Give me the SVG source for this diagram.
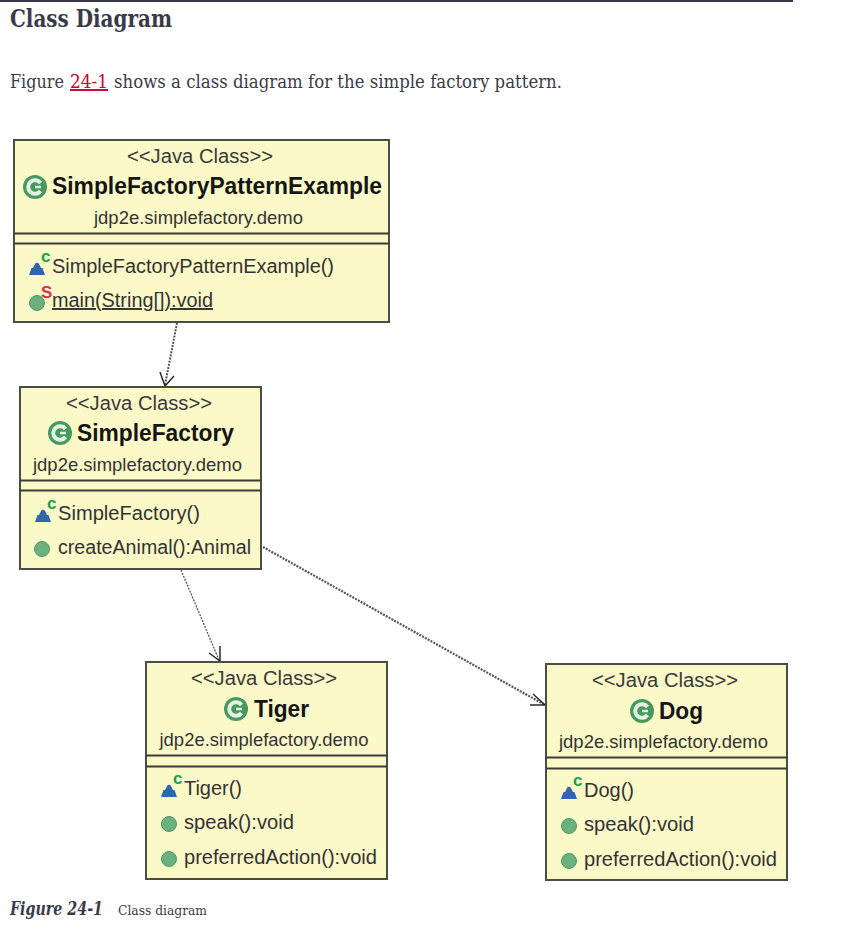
<svg xmlns="http://www.w3.org/2000/svg" xmlns:xlink="http://www.w3.org/1999/xlink" width="851" height="945" viewBox="0 0 851 945">
<style>
text{font-family:"Liberation Sans",Arial,sans-serif;fill:#333}
.box{fill:#fbf9c8;stroke:#4a4d42;stroke-width:2}
.sep{stroke:#3a3d35;stroke-width:2;fill:none}
.st{font-size:19.500px;text-anchor:middle;fill:#3a3a3a}
.nm{font-size:23px;font-weight:bold;fill:#151515}
.pk{font-size:18.500px;text-anchor:middle}
.m{font-size:19.500px}
.ser{font-family:"DejaVu Serif","Liberation Serif",serif;fill:#3a3a48}
.body{font-size:19px}
.dep{stroke:#555;fill:none;stroke-dasharray:2 1.2}
.head{stroke:#2a2a2a;stroke-width:1.500;fill:none}
</style>
<defs>
<g id="cls"><circle r="12" fill="#479a5e"/><path d="M5.500-4A6.800 6.800 0 1 0 5.500 4" fill="none" stroke="#e2f1e2" stroke-width="4"/><path d="M0 0H6" stroke="#e2f1e2" stroke-width="2.500"/></g>
<g id="ctor"><path d="M-8 8H8L5.500 1H4L2-3A2.200 2.200 0 0 0-2-3L-4 1H-5.500Z" fill="#2f66ad"/><text x="4" y="-5" style="font-size:17px;font-weight:bold;fill:#18a04a">c</text></g>
<g id="pub"><circle r="7.500" fill="#6cb07e" stroke="#4c9a66" stroke-width="1"/></g>
</defs>
<rect x="0" y="0" width="793" height="2" fill="#3a3a48"/>
<text class="ser" x="10" y="27" style="font-size:24px;font-weight:bold" textLength="162" lengthAdjust="spacingAndGlyphs">Class Diagram</text>
<text class="ser body" transform="translate(10 88) scale(.92 1)" textLength="58.700" lengthAdjust="spacingAndGlyphs">Figure</text>
<text class="ser body" transform="translate(70 88) scale(.92 1)" textLength="41.300" lengthAdjust="spacingAndGlyphs" style="fill:#c8002d;text-decoration:underline">24-1</text>
<text class="ser body" transform="translate(114 88) scale(.92 1)" textLength="487" lengthAdjust="spacingAndGlyphs">shows a class diagram for the simple factory pattern.</text>
<text class="ser" transform="translate(10 915) scale(.85 1)" style="font-size:18px;font-weight:bold;font-style:italic" textLength="109.400" lengthAdjust="spacingAndGlyphs">Figure 24-1</text>
<text class="ser" transform="translate(118 915) scale(.9 1)" style="font-size:13px" textLength="98.900" lengthAdjust="spacingAndGlyphs">Class diagram</text>
<g id="connectors">
<path class="dep" stroke-width="2" d="M177 323L165 385"/><path class="head" d="M160 372L165 386L174 376"/>
<path class="dep" stroke-width="1.300" d="M181 570L219 660"/><path class="head" d="M209 653L220 661L220 646"/>
<path class="dep" stroke-width="2.200" d="M263 547L545 705"/><path class="head" d="M533 694L545 705H530"/>
</g>
<g id="node-main">
<rect class="box" x="14" y="140" width="375" height="182"/>
<path class="sep" d="M14 233.500H389M14 243.500H389"/>
<text class="st" x="200" y="163" textLength="146" lengthAdjust="spacingAndGlyphs">&lt;&lt;Java Class&gt;&gt;</text>
<use xlink:href="#cls" x="35" y="187"/>
<text class="nm" x="52" y="194" textLength="330" lengthAdjust="spacingAndGlyphs">SimpleFactoryPatternExample</text>
<text class="pk" x="198.500" y="224" textLength="209" lengthAdjust="spacingAndGlyphs">jdp2e.simplefactory.demo</text>
<use xlink:href="#ctor" x="37" y="267"/>
<text class="m" x="52" y="273" textLength="282" lengthAdjust="spacingAndGlyphs">SimpleFactoryPatternExample()</text>
<use xlink:href="#pub" x="37" y="303"/>
<text x="41" y="298" style="font-size:17px;font-weight:bold;fill:#d8304f">S</text>
<text class="m" x="52" y="307" textLength="161" lengthAdjust="spacingAndGlyphs" text-decoration="underline">main(String[]):void</text>
</g>
<g id="node-factory">
<rect class="box" x="20" y="387" width="241" height="182"/>
<path class="sep" d="M20 480.500H261M20 490.500H261"/>
<text class="st" x="139" y="410" textLength="146" lengthAdjust="spacingAndGlyphs">&lt;&lt;Java Class&gt;&gt;</text>
<use xlink:href="#cls" x="60" y="433"/>
<text class="nm" x="77" y="441" textLength="157" lengthAdjust="spacingAndGlyphs">SimpleFactory</text>
<text class="pk" x="137.500" y="471" textLength="209" lengthAdjust="spacingAndGlyphs">jdp2e.simplefactory.demo</text>
<use xlink:href="#ctor" x="43" y="514"/>
<text class="m" x="58" y="520" textLength="142" lengthAdjust="spacingAndGlyphs">SimpleFactory()</text>
<use xlink:href="#pub" x="42" y="549"/>
<text class="m" x="58" y="554" textLength="193" lengthAdjust="spacingAndGlyphs">createAnimal():Animal</text>
</g>
<g id="node-tiger">
<rect class="box" x="146" y="662" width="241" height="217"/>
<path class="sep" d="M146 755.500H387M146 766.500H387"/>
<text class="st" x="264" y="685" textLength="146" lengthAdjust="spacingAndGlyphs">&lt;&lt;Java Class&gt;&gt;</text>
<use xlink:href="#cls" x="236" y="709"/>
<text class="nm" x="254" y="717" textLength="55" lengthAdjust="spacingAndGlyphs">Tiger</text>
<text class="pk" x="264" y="746" textLength="209" lengthAdjust="spacingAndGlyphs">jdp2e.simplefactory.demo</text>
<use xlink:href="#ctor" x="169" y="789"/>
<text class="m" x="184" y="795" textLength="58" lengthAdjust="spacingAndGlyphs">Tiger()</text>
<use xlink:href="#pub" x="169" y="824"/>
<text class="m" x="184" y="829" textLength="110" lengthAdjust="spacingAndGlyphs">speak():void</text>
<use xlink:href="#pub" x="169" y="859"/>
<text class="m" x="184" y="864" textLength="193" lengthAdjust="spacingAndGlyphs">preferredAction():void</text>
</g>
<g id="node-dog">
<rect class="box" x="546" y="664" width="241" height="216"/>
<path class="sep" d="M546 757.500H787M546 768.500H787"/>
<text class="st" x="665" y="687" textLength="146" lengthAdjust="spacingAndGlyphs">&lt;&lt;Java Class&gt;&gt;</text>
<use xlink:href="#cls" x="642" y="711"/>
<text class="nm" x="659" y="719" textLength="44" lengthAdjust="spacingAndGlyphs">Dog</text>
<text class="pk" x="663.500" y="748" textLength="209" lengthAdjust="spacingAndGlyphs">jdp2e.simplefactory.demo</text>
<use xlink:href="#ctor" x="569" y="791"/>
<text class="m" x="584" y="797" textLength="50" lengthAdjust="spacingAndGlyphs">Dog()</text>
<use xlink:href="#pub" x="569" y="826"/>
<text class="m" x="584" y="831" textLength="110" lengthAdjust="spacingAndGlyphs">speak():void</text>
<use xlink:href="#pub" x="569" y="861"/>
<text class="m" x="584" y="866" textLength="193" lengthAdjust="spacingAndGlyphs">preferredAction():void</text>
</g>
</svg>
